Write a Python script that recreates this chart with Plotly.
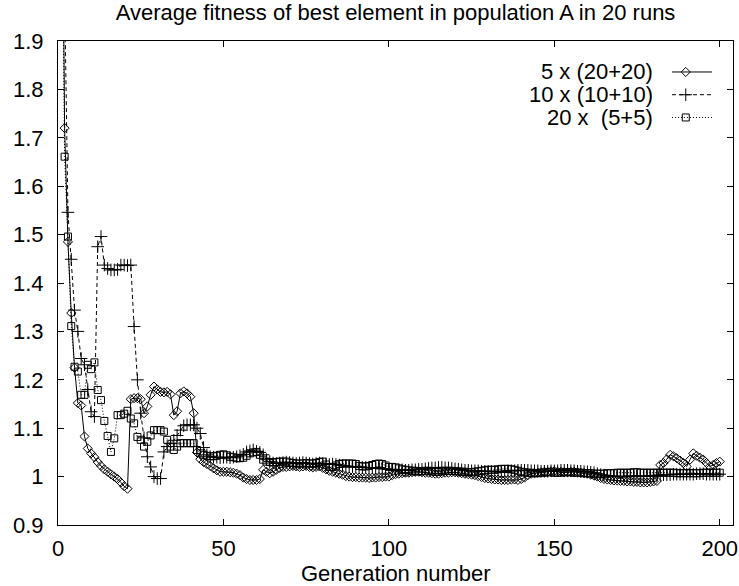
import plotly.graph_objects as go

generations = list(range(1, 201))

fitness_5x20 = [
    2.50, 1.720, 1.485, 1.338, 1.225, 1.152, 1.147, 1.083, 1.058, 1.048,
    1.040, 1.030, 1.022, 1.015, 1.010, 1.005, 1.000, 0.995, 0.988, 0.980,
    0.975, 1.160, 1.162, 1.162, 1.160, 1.131, 1.145, 1.169, 1.186, 1.180,
    1.175, 1.174, 1.175, 1.170, 1.127, 1.135, 1.172, 1.176, 1.172, 1.165,
    1.131, 1.050, 1.036, 1.030, 1.026, 1.022, 1.017, 1.013, 1.010, 1.010,
    1.010, 1.009, 1.008, 1.006, 1.003, 0.998, 0.995, 0.993, 0.993, 0.993,
    0.995, 1.014, 1.010, 1.007, 1.010, 1.014, 1.018, 1.020, 1.020, 1.021,
    1.022, 1.021, 1.020, 1.021, 1.022, 1.020, 1.019, 1.020, 1.021, 1.018,
    1.015, 1.012, 1.010, 1.008, 1.006, 1.004, 1.001, 1.000, 0.999, 0.999,
    0.998, 0.998, 0.998, 0.997, 0.998, 0.998, 0.999, 0.999, 1.000, 1.000,
    1.003, 1.005, 1.006, 1.007, 1.008, 1.008, 1.009, 1.010, 1.010, 1.009,
    1.008, 1.008, 1.007, 1.006, 1.006, 1.007, 1.008, 1.008, 1.009, 1.009,
    1.008, 1.007, 1.006, 1.005, 1.004, 1.003, 1.001, 0.999, 0.997, 0.996,
    0.995, 0.994, 0.994, 0.993, 0.993, 0.993, 0.994, 0.994, 0.993, 0.995,
    0.998, 1.003, 1.006, 1.007, 1.008, 1.009, 1.010, 1.010, 1.011, 1.011,
    1.010, 1.010, 1.009, 1.009, 1.010, 1.010, 1.009, 1.008, 1.007, 1.006,
    1.004, 1.002, 1.000, 0.997, 0.995, 0.994, 0.993, 0.992, 0.992, 0.991,
    0.991, 0.990, 0.990, 0.989, 0.989, 0.988, 0.988, 0.988, 0.989, 0.990,
    0.991, 1.024, 1.028, 1.036, 1.045, 1.042, 1.038, 1.033, 1.028, 1.021,
    1.035, 1.048, 1.043, 1.039, 1.035, 1.028, 1.021, 1.024, 1.028, 1.031,
]

fitness_10x10 = [
    2.60, 2.000, 1.546, 1.449, 1.344, 1.300, 1.244, 1.231, 1.180, 1.134,
    1.124, 1.475, 1.496, 1.437, 1.430, 1.427, 1.427, 1.428, 1.437, 1.437,
    1.436, 1.437, 1.310, 1.200, 1.131, 1.080, 1.041, 1.020, 1.000, 0.996,
    0.996, 1.051, 1.062, 1.068, 1.075, 1.085, 1.096, 1.105, 1.107, 1.107,
    1.107, 1.100, 1.089, 1.060, 1.045, 1.041, 1.040, 1.040, 1.039, 1.040,
    1.040, 1.039, 1.040, 1.041, 1.043, 1.046, 1.051, 1.053, 1.055, 1.052,
    1.050, 1.045, 1.035, 1.031, 1.028, 1.027, 1.028, 1.029, 1.030, 1.029,
    1.028, 1.027, 1.028, 1.029, 1.028, 1.027, 1.026, 1.027, 1.028, 1.027,
    1.026, 1.025, 1.026, 1.025, 1.024, 1.023, 1.022, 1.021, 1.021, 1.020,
    1.020, 1.019, 1.019, 1.018, 1.018, 1.017, 1.017, 1.016, 1.016, 1.015,
    1.015, 1.014, 1.014, 1.014, 1.013, 1.013, 1.014, 1.014, 1.015, 1.015,
    1.016, 1.017, 1.018, 1.018, 1.019, 1.019, 1.018, 1.018, 1.017, 1.016,
    1.015, 1.014, 1.013, 1.013, 1.012, 1.012, 1.012, 1.011, 1.011, 1.011,
    1.011, 1.010, 1.010, 1.011, 1.011, 1.012, 1.012, 1.012, 1.013, 1.013,
    1.013, 1.013, 1.012, 1.012, 1.012, 1.011, 1.011, 1.011, 1.012, 1.012,
    1.012, 1.013, 1.013, 1.013, 1.012, 1.012, 1.011, 1.011, 1.010, 1.010,
    1.009, 1.008, 1.006, 1.004, 1.003, 1.002, 1.001, 1.001, 1.000, 1.000,
    1.000, 1.000, 1.001, 1.001, 1.000, 1.000, 1.001, 1.001, 1.002, 1.002,
    1.003, 1.003, 1.004, 1.004, 1.004, 1.005, 1.005, 1.005, 1.005, 1.005,
    1.005, 1.005, 1.006, 1.006, 1.006, 1.005, 1.005, 1.005, 1.005, 1.005,
]

fitness_20x5 = [
    2.40, 1.661, 1.496, 1.311, 1.227, 1.217, 1.169, 1.169, 1.231, 1.222,
    1.236, 1.179, 1.158, 1.115, 1.084, 1.051, 1.079, 1.127, 1.127, 1.130,
    1.136, 1.120, 1.110, 1.082, 1.076, 1.062, 1.072, 1.085, 1.096, 1.096,
    1.096, 1.093, 1.076, 1.062, 1.055, 1.062, 1.069, 1.069, 1.069, 1.069,
    1.069, 1.055, 1.048, 1.045, 1.043, 1.042, 1.042, 1.043, 1.045, 1.046,
    1.044, 1.041, 1.040, 1.038, 1.038, 1.039, 1.043, 1.048, 1.050, 1.051,
    1.045, 1.035, 1.031, 1.030, 1.029, 1.030, 1.031, 1.031, 1.031, 1.029,
    1.028, 1.027, 1.027, 1.027, 1.028, 1.027, 1.027, 1.028, 1.030, 1.031,
    1.025, 1.020, 1.020, 1.023, 1.026, 1.027, 1.027, 1.027, 1.027, 1.026,
    1.022, 1.021, 1.021, 1.022, 1.024, 1.026, 1.027, 1.026, 1.023, 1.020,
    1.020, 1.019, 1.017, 1.015, 1.014, 1.013, 1.012, 1.012, 1.011, 1.011,
    1.012, 1.012, 1.011, 1.010, 1.010, 1.011, 1.012, 1.012, 1.012, 1.011,
    1.011, 1.010, 1.010, 1.009, 1.009, 1.010, 1.011, 1.012, 1.013, 1.014,
    1.014, 1.014, 1.015, 1.016, 1.016, 1.016, 1.015, 1.014, 1.012, 1.010,
    1.009, 1.008, 1.008, 1.007, 1.007, 1.008, 1.008, 1.009, 1.009, 1.008,
    1.008, 1.008, 1.009, 1.009, 1.009, 1.008, 1.008, 1.008, 1.007, 1.007,
    1.007, 1.006, 1.006, 1.006, 1.006, 1.007, 1.007, 1.007, 1.008, 1.008,
    1.008, 1.008, 1.008, 1.009, 1.009, 1.008, 1.008, 1.008, 1.008, 1.008,
    1.008, 1.008, 1.008, 1.008, 1.008, 1.008, 1.007, 1.007, 1.007, 1.007,
    1.007, 1.007, 1.007, 1.007, 1.008, 1.008, 1.008, 1.008, 1.008, 1.008,
]

series_names = ["5 x (20+20)", "10 x (10+10)", "20 x\u00a0 (5+5)"]
y_tick_values = [0.9, 1.0, 1.1, 1.2, 1.3, 1.4, 1.5, 1.6, 1.7, 1.8, 1.9]
y_tick_labels = ["0.9", "1", "1.1", "1.2", "1.3", "1.4", "1.5", "1.6", "1.7", "1.8", "1.9"]
x_tick_values = [0, 50, 100, 150, 200]
x_tick_labels = ["0", "50", "100", "150", "200"]

FONT = "Liberation Sans, Arial, Helvetica, sans-serif"
FS = 22

styles = [
    dict(dash="solid", symbol="diamond-open", size=7),
    dict(dash="4px,3px", symbol="cross-thin-open", size=9),
    dict(dash="1px,2px", symbol="square-open", size=7),
]
all_series = [fitness_5x20, fitness_10x10, fitness_20x5]

fig = go.Figure()
for vals, st in zip(all_series, styles):
    fig.add_trace(go.Scatter(
        x=generations, y=vals, mode="lines+markers",
        line=dict(color="black", width=1, dash=st["dash"]),
        marker=dict(symbol=st["symbol"], size=st["size"], color="black",
                    line=dict(color="black", width=1)),
        showlegend=False, cliponaxis=True,
    ))

# gnuplot-style key: label on the left, sample on the right (drawn on an overlay axis)
key_rows = [0.936, 0.889, 0.842]
key_line = [0.9096, 0.9689]
key_mark = 0.930
key_text_x = 0.8844
for name, st, ry in zip(series_names, styles, key_rows):
    fig.add_trace(go.Scatter(
        x=key_line, y=[ry, ry], mode="lines", xaxis="x2", yaxis="y2",
        line=dict(color="black", width=1, dash=st["dash"]), showlegend=False,
        hoverinfo="skip",
    ))
    fig.add_trace(go.Scatter(
        x=[key_mark], y=[ry], mode="markers", xaxis="x2", yaxis="y2",
        marker=dict(symbol=st["symbol"], size=st["size"], color="black",
                    line=dict(color="black", width=1)),
        showlegend=False, hoverinfo="skip",
    ))
    fig.add_annotation(
        x=key_text_x, y=ry, xref="paper", yref="paper", text=name,
        showarrow=False, xanchor="right", yanchor="middle",
        font=dict(family=FONT, size=FS, color="black"),
    )

fig.add_annotation(
    x=0.5, y=-0.101, xref="paper", yref="paper", text="Generation number",
    showarrow=False, xanchor="center", yanchor="middle",
    font=dict(family=FONT, size=FS, color="black"),
)

axis_common = dict(
    showgrid=False, zeroline=False, showline=True, linecolor="black",
    linewidth=1, mirror="ticks", ticks="inside", ticklen=6, tickwidth=1,
    tickcolor="black", tickfont=dict(family=FONT, size=FS, color="black"),
)

fig.update_layout(
    width=739, height=586,
    margin=dict(l=58, r=6, t=41, b=61, autoexpand=False),
    paper_bgcolor="white", plot_bgcolor="white",
    title=dict(text="Average fitness of best element in population A in 20 runs",
               x=0.5, xref="paper", xanchor="center", y=0.979, yref="container",
               yanchor="middle", font=dict(family=FONT, size=FS, color="black")),
    xaxis=dict(range=[0, 204], tickvals=x_tick_values, ticktext=x_tick_labels,
               ticklabelstandoff=4, **axis_common),
    yaxis=dict(range=[0.9, 1.9], tickvals=y_tick_values, ticktext=y_tick_labels,
               ticklabelstandoff=9, **axis_common),
    xaxis2=dict(range=[0, 1], overlaying="x", visible=False, fixedrange=True),
    yaxis2=dict(range=[0, 1], overlaying="y", visible=False, fixedrange=True),
    showlegend=False,
)

fig.write_html("out.html")
